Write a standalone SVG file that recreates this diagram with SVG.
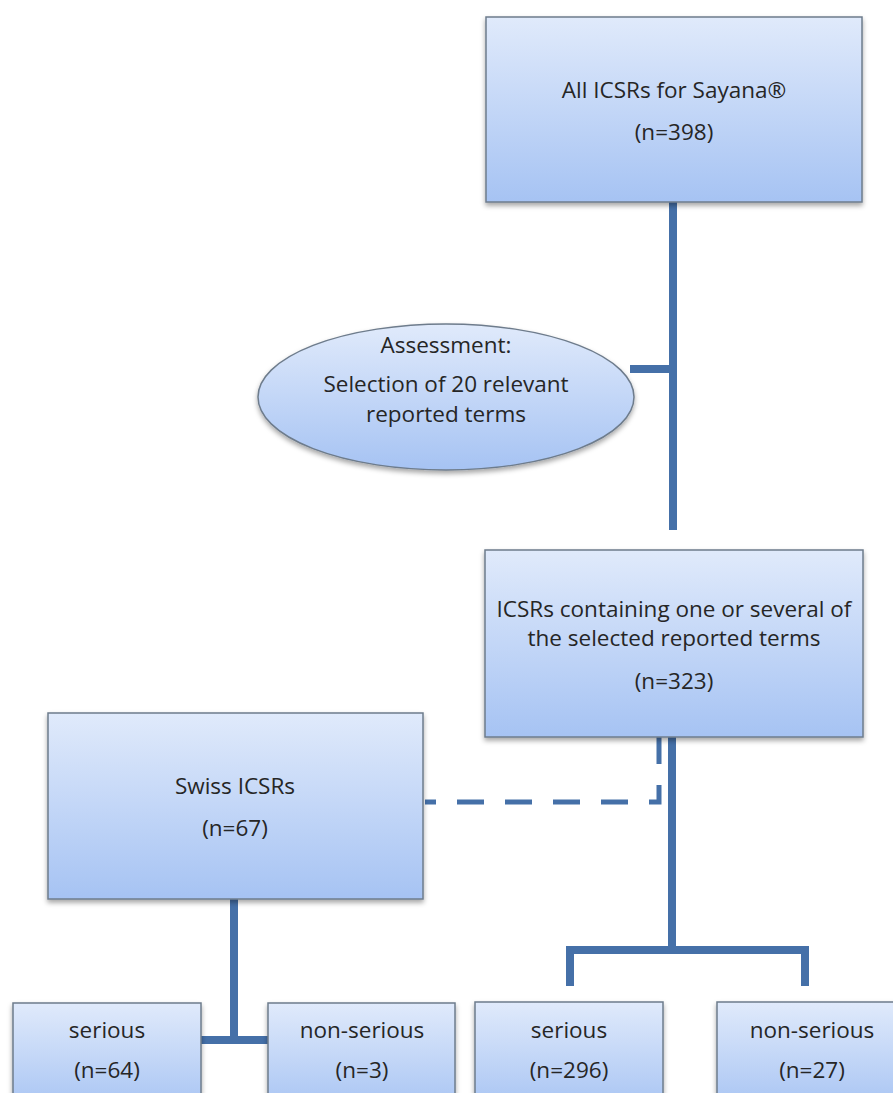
<svg xmlns="http://www.w3.org/2000/svg" width="893" height="1093" viewBox="0 0 893 1093">
<defs>
<linearGradient id="g" x1="0" y1="0" x2="0" y2="1">
<stop offset="0" stop-color="#e0eafb"/>
<stop offset="1" stop-color="#a6c3f3"/>
</linearGradient>
<filter id="sh" x="-10%" y="-10%" width="120%" height="130%">
<feDropShadow dx="0" dy="3" stdDeviation="2.5" flood-color="#000" flood-opacity="0.35"/>
</filter>
<style>
.box{fill:url(#g);stroke:#6e7c8c;stroke-width:1.5;filter:url(#sh)}
.t{font-family:"Open Sans","Liberation Sans",sans-serif;font-size:22.5px;fill:#262626;text-anchor:middle}
.ln{stroke:#4570a8;stroke-width:8;fill:none}
.dash{stroke:#4570a8;stroke-width:5;fill:none;stroke-dasharray:27 21}
</style>
</defs>
<rect width="893" height="1093" fill="#ffffff"/>
<g id="connectors">
<line class="ln" x1="673" y1="202" x2="673" y2="530"/>
<line class="ln" x1="630" y1="369" x2="673" y2="369"/>
<line class="ln" x1="672" y1="737" x2="672" y2="950"/>
<path class="ln" d="M570,986 V950 H805 V986" stroke-width="7"/>
<path class="dash" d="M659,737 V802 H425"/>
<line class="ln" x1="234" y1="899" x2="234" y2="1040"/>
<line class="ln" x1="200" y1="1040" x2="268" y2="1040" stroke-width="7"/>
</g>
<g id="all-icsrs">
<rect class="box" x="486" y="17" width="376" height="185"/>
<text class="t" x="674" y="98">All ICSRs for Sayana®</text>
<text class="t" x="674" y="140">(n=398)</text>
</g>
<g id="assessment">
<ellipse class="box" cx="446" cy="397" rx="188" ry="73"/>
<text class="t" x="446" y="353">Assessment:</text>
<text class="t" x="446" y="392">Selection of 20 relevant</text>
<text class="t" x="446" y="422">reported terms</text>
</g>
<g id="selected">
<rect class="box" x="485" y="550" width="378" height="187"/>
<text class="t" x="674" y="617">ICSRs containing one or several of</text>
<text class="t" x="674" y="646">the selected reported terms</text>
<text class="t" x="674" y="689">(n=323)</text>
</g>
<g id="swiss">
<rect class="box" x="48" y="713" width="375" height="186"/>
<text class="t" x="235" y="794">Swiss ICSRs</text>
<text class="t" x="235" y="836">(n=67)</text>
</g>
<g id="swiss-serious">
<rect class="box" x="13" y="1003" width="188" height="110"/>
<text class="t" x="107" y="1038">serious</text>
<text class="t" x="107" y="1078">(n=64)</text>
</g>
<g id="swiss-nonserious">
<rect class="box" x="268" y="1003" width="187" height="110"/>
<text class="t" x="362" y="1038">non-serious</text>
<text class="t" x="362" y="1078">(n=3)</text>
</g>
<g id="all-serious">
<rect class="box" x="475" y="1002" width="188" height="110"/>
<text class="t" x="569" y="1038">serious</text>
<text class="t" x="569" y="1078">(n=296)</text>
</g>
<g id="all-nonserious">
<rect class="box" x="717" y="1002" width="190" height="110"/>
<text class="t" x="812" y="1038">non-serious</text>
<text class="t" x="812" y="1078">(n=27)</text>
</g>
</svg>
